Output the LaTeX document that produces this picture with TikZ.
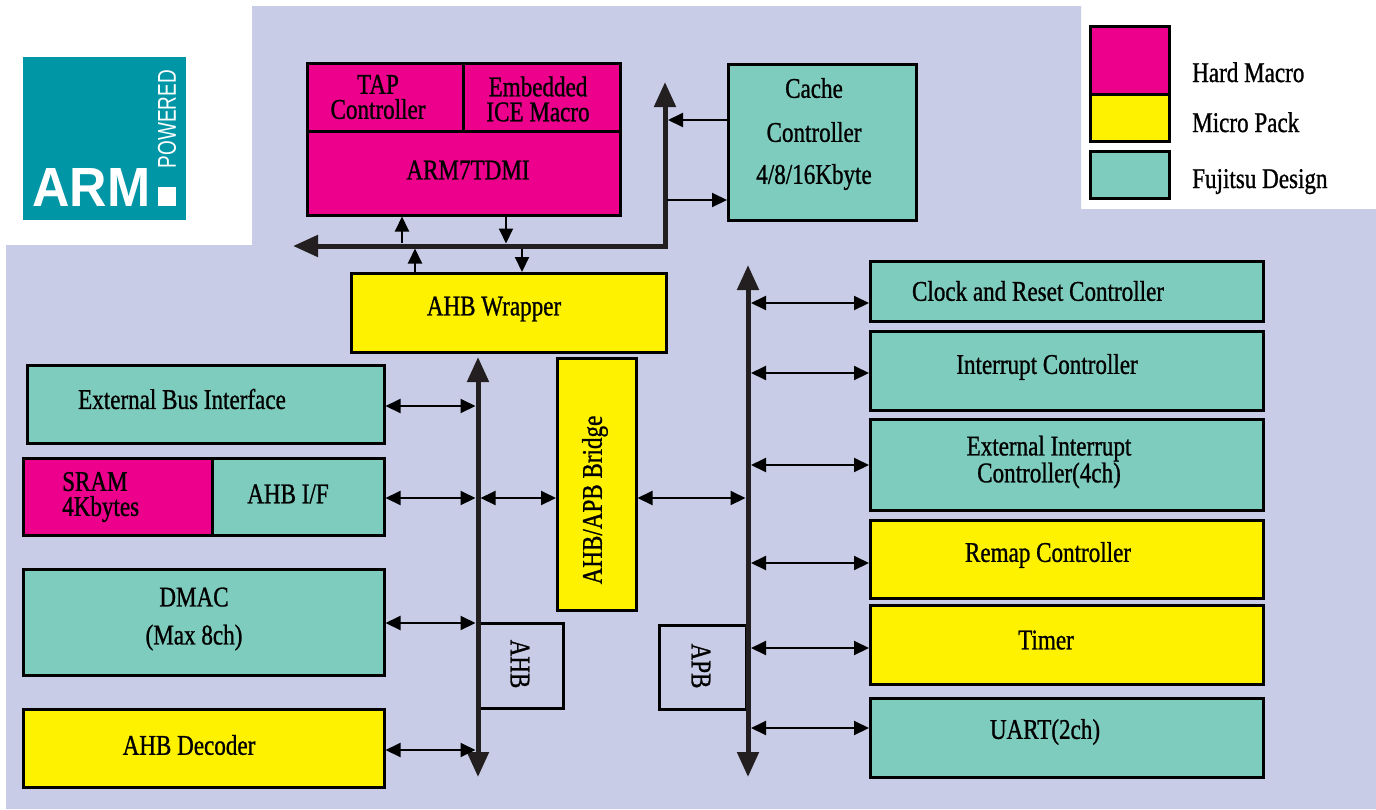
\documentclass[tikz,border=0pt]{standalone}
\usepackage{fontspec}
\setmainfont{Liberation Serif}[FakeStretch=0.81,FakeBold=0.9]
\newfontfamily\armsans{Liberation Sans}
\usetikzlibrary{arrows.meta}
\definecolor{lav}{RGB}{200,204,230}
\definecolor{hard}{RGB}{236,0,140}
\definecolor{micro}{RGB}{255,242,0}
\definecolor{fuji}{RGB}{126,204,190}
\definecolor{armteal}{RGB}{0,150,166}
\definecolor{busc}{RGB}{35,31,32}
\begin{document}
\begin{tikzpicture}[x=1pt,y=-1pt,
  box/.style={draw=black,line width=2.5pt,inner sep=0pt,anchor=north west},
  lbl/.style={font=\fontsize{28.5}{25}\selectfont,inner sep=0pt,align=center,text=black},
  bus/.style={draw=busc,line width=5pt,{Triangle[length=25pt,width=21pt]}-{Triangle[length=25pt,width=21pt]}},
  tarr/.style={draw=black,line width=2pt,-{Triangle[length=15pt,width=14pt]}},
  darr/.style={draw=black,line width=2pt,{Triangle[length=15pt,width=14pt]}-{Triangle[length=15pt,width=14pt]}}]
\useasboundingbox (0,0) rectangle (1376,809);
\fill[white] (0,0) rectangle (1376,809);
\fill[lav] (252,6) -- (1081,6) -- (1081,209) -- (1376,209) -- (1376,809) -- (6,809) -- (6,245) -- (252,245) -- cycle;

% ARM logo
\node[fill=armteal,minimum width=163,minimum height=163,inner sep=0pt,anchor=north west] (logo) at (23,57) {};
\node[inner sep=0pt,text=white] (armtxt) at (91.5,187) {\resizebox{118pt}{38pt}{\armsans\bfseries ARM}};
\node[fill=white,minimum width=18,minimum height=19,inner sep=0pt,anchor=north west] (armdot) at (158,187) {};
\node[inner sep=0pt,text=white,rotate=90] (pow) at (167,119) {\resizebox{98pt}{18pt}{\armsans POWERED}};

% legend
\node[box,fill=hard,minimum width=79,minimum height=68] (lhard) at (1089,25) {};
\node[box,fill=micro,minimum width=79,minimum height=47] (lmicro) at (1089,93) {};
\node[box,fill=fuji,minimum width=79,minimum height=47] (lfuji) at (1089,150) {};
\node[lbl,anchor=base west] (thard) at (1192,82) {Hard Macro};
\node[lbl,anchor=base west] (tmicro) at (1192,132) {Micro Pack};
\node[lbl,anchor=base west] (tfuji) at (1192,188) {Fujitsu Design};

% processor blocks
\node[box,fill=hard,minimum width=156,minimum height=68] (tap) at (306,62) {};
\node[box,fill=hard,minimum width=157,minimum height=68] (ice) at (462,62) {};
\node[box,fill=hard,minimum width=313,minimum height=84] (arm) at (306,130) {};
\node[box,fill=fuji,minimum width=188,minimum height=156] (cache) at (727,63) {};
\node[box,fill=micro,minimum width=315,minimum height=79] (wrap) at (350,272) {};
\node[lbl] (ttap) at (378,97) {TAP\\Controller};
\node[lbl] (tice) at (538,99) {Embedded\\ICE Macro};
\node[lbl] (tarm) at (468,170) {ARM7TDMI};
\node[lbl] (tcache) at (814,134) {Cache\\[19pt]Controller\\[17pt]4/8/16Kbyte};
\node[lbl] (twrap) at (494,309) {AHB Wrapper};

% left blocks
\node[box,fill=fuji,minimum width=357,minimum height=78] (ebi) at (26,364) {};
\node[box,fill=hard,minimum width=189,minimum height=77] (sram) at (22,457) {};
\node[box,fill=fuji,minimum width=172,minimum height=77] (ahbif) at (211,457) {};
\node[box,fill=fuji,minimum width=361,minimum height=106] (dmac) at (22,568) {};
\node[box,fill=micro,minimum width=361,minimum height=78] (dec) at (22,708) {};
\node[lbl] (tebi) at (182,399) {External Bus Interface};
\node[lbl,align=left,anchor=west] (tsram) at (62,497) {SRAM\\4Kbytes};
\node[lbl] (tahbif) at (288,494) {AHB I/F};
\node[lbl] (tdmac) at (194,619) {DMAC\\[13pt](Max 8ch)};
\node[lbl] (tdec) at (189,745) {AHB Decoder};

% bridge and bus labels
\node[box,fill=micro,minimum width=79,minimum height=252] (bridge) at (556,357) {};
\node[lbl,rotate=90] (tbridge) at (595,500) {AHB/APB Bridge};
\node[box,minimum width=84,minimum height=85] (ahbbox) at (478,622) {};
\node[lbl,rotate=-90] (tahb) at (520,664) {AHB};
\node[box,minimum width=87,minimum height=84] (apbbox) at (658,624) {};
\node[lbl,rotate=-90] (tapb) at (701,666) {APB};

% right blocks
\node[box,fill=fuji,minimum width=393,minimum height=60] (clk) at (869,260) {};
\node[box,fill=fuji,minimum width=393,minimum height=79] (intc) at (869,330) {};
\node[box,fill=fuji,minimum width=393,minimum height=91] (eint) at (869,418) {};
\node[box,fill=micro,minimum width=393,minimum height=78] (remap) at (869,519) {};
\node[box,fill=micro,minimum width=393,minimum height=79] (timer) at (869,604) {};
\node[box,fill=fuji,minimum width=393,minimum height=79] (uart) at (869,697) {};
\node[lbl] (tclk) at (1038,291) {Clock and Reset Controller};
\node[lbl] (tintc) at (1047,367) {Interrupt Controller};
\node[lbl] (teint) at (1049,462) {External Interrupt\\Controller(4ch)};
\node[lbl] (tremap) at (1048,555) {Remap Controller};
\node[lbl] (ttimer) at (1046,640) {Timer};
\node[lbl] (tuart) at (1045,732) {UART(2ch)};

% buses
\coordinate (busL) at (293,246);
\coordinate (busC) at (665,246);
\coordinate (busT) at (665,82);
\draw[bus] (busL) -- (busC) -- (busT);
\coordinate (ahbT) at (478,357);
\coordinate (ahbB) at (478,777);
\draw[bus] (ahbT) -- (ahbB);
\coordinate (apbT) at (748,265);
\coordinate (apbB) at (748,777);
\draw[bus] (apbT) -- (apbB);

% processor bus connections
\coordinate (cin) at (668,120);
\coordinate (cout) at (667,200);
\draw[tarr] (cache.west |- cin) -- (cin);
\draw[tarr] (cout) -- (cache.west |- cout);
\coordinate (aup) at (402,243);
\coordinate (adn) at (506,243.5);
\draw[tarr] (aup) -- (arm.south -| aup);
\draw[tarr] (arm.south -| adn) -- (adn);
\coordinate (wup) at (415,272);
\coordinate (wbu) at (415,248.5);
\coordinate (wdn) at (522,248.5);
\draw[tarr] (wrap.north -| wup) -- (wbu);
\draw[tarr] (wdn) -- (wrap.north -| wdn);

% left connections
\coordinate (le) at (475.5,406);
\coordinate (ls) at (475.5,498);
\coordinate (ld) at (475.5,623);
\coordinate (lc) at (475.5,750);
\draw[darr] (ebi.east |- le) -- (le);
\draw[darr] (ahbif.east |- ls) -- (ls);
\draw[darr] (dmac.east |- ld) -- (ld);
\draw[darr] (dec.east |- lc) -- (lc);
\coordinate (bl) at (480.5,498);
\coordinate (br) at (745.5,498);
\draw[darr] (bl) -- (bridge.west |- bl);
\draw[darr] (bridge.east |- br) -- (br);

% right connections
\coordinate (r1) at (751,303);
\coordinate (r2) at (751,373);
\coordinate (r3) at (751,465);
\coordinate (r4) at (751,563);
\coordinate (r5) at (751,648);
\coordinate (r6) at (751,728);
\draw[darr] (r1) -- (clk.west |- r1);
\draw[darr] (r2) -- (intc.west |- r2);
\draw[darr] (r3) -- (eint.west |- r3);
\draw[darr] (r4) -- (remap.west |- r4);
\draw[darr] (r5) -- (timer.west |- r5);
\draw[darr] (r6) -- (uart.west |- r6);
\end{tikzpicture}
\end{document}
